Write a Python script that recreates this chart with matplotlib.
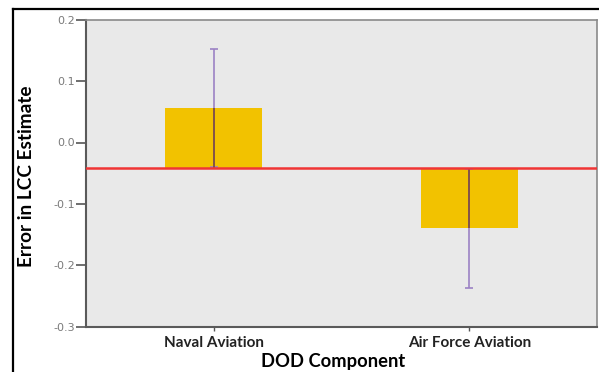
import numpy as np
import matplotlib
matplotlib.use("Agg")
import matplotlib.pyplot as plt
from matplotlib.lines import Line2D

# データ
components = ["Naval Aviation", "Air Force Aviation"]
mean_error = [0.056, -0.140]
ci_half = [0.096, 0.097]
reference = -0.041
yticks = [0.2, 0.1, 0.0, -0.1, -0.2, -0.3]

W, H = 599, 372
fig = plt.figure(figsize=(W / 100, H / 100), dpi=100)
fig.patch.set_facecolor("white")

# プロット領域 (ピクセル位置から)
left, right, top, bottom = 86, 597, 19.7, 326.7
ax = fig.add_axes([left / W, (H - bottom) / H, (right - left) / W, (bottom - top) / H])
ax.set_facecolor("#e9e9e9")

x = np.arange(len(components))
means = np.array(mean_error)
err = np.array(ci_half)

# 基準線から伸びる棒
ax.bar(x, means - reference, bottom=reference, width=0.38,
       color="#f2c200", zorder=2)

# 誤差棒
ax.errorbar(x, means, yerr=err, fmt="none", ecolor="#9c82c4",
            elinewidth=1.2, capsize=2.9, capthick=1.2, zorder=3)
# 棒の内側は暗く見える
ax.vlines(x, reference, means, color="#7d4a35", linewidth=1.2, zorder=4)

# 基準線
ax.axhline(reference, color="#f03535", linewidth=1.8, zorder=5)

ax.set_xlim(-0.5, 1.5)
ax.set_ylim(-0.3, 0.2)
ax.set_yticks(yticks)
ax.set_yticklabels([f"{v:.1f}" for v in yticks], color="#7a7a7a",
                   fontsize=8, family="DejaVu Sans")
ax.set_xticks(x)
ax.set_xticklabels(components, fontsize=11, fontweight="bold",
                   family="Lato", color="#222222")
ax.tick_params(axis="y", direction="out", length=7, width=1.2, color="#555555", pad=1)
ax.tick_params(axis="x", direction="out", length=3, width=1, color="#555555", pad=4)

for side in ["left", "bottom"]:
    ax.spines[side].set_color("#5a5a5a")
    ax.spines[side].set_linewidth(1.5)
for side in ["top", "right"]:
    ax.spines[side].set_color("#8a8a8a")
    ax.spines[side].set_linewidth(1.2)

ax.set_ylabel("Error in LCC Estimate", fontsize=13.7, fontweight="bold",
              family="Lato", color="black")
ax.yaxis.set_label_coords(-0.10, 0.49)

fig.text(333 / W, 10.5 / H, "DOD Component", ha="center", va="center",
         fontsize=13.2, fontweight="bold", family="Lato", color="black")

# 外枠
fig.add_artist(Line2D([13 / W, 13 / W], [0, (H - 9) / H], color="black",
                      linewidth=1.6, transform=fig.transFigure))
fig.add_artist(Line2D([13 / W, 1], [(H - 9) / H, (H - 9) / H], color="black",
                      linewidth=1.6, transform=fig.transFigure))

fig.savefig("out.png", dpi=100)
